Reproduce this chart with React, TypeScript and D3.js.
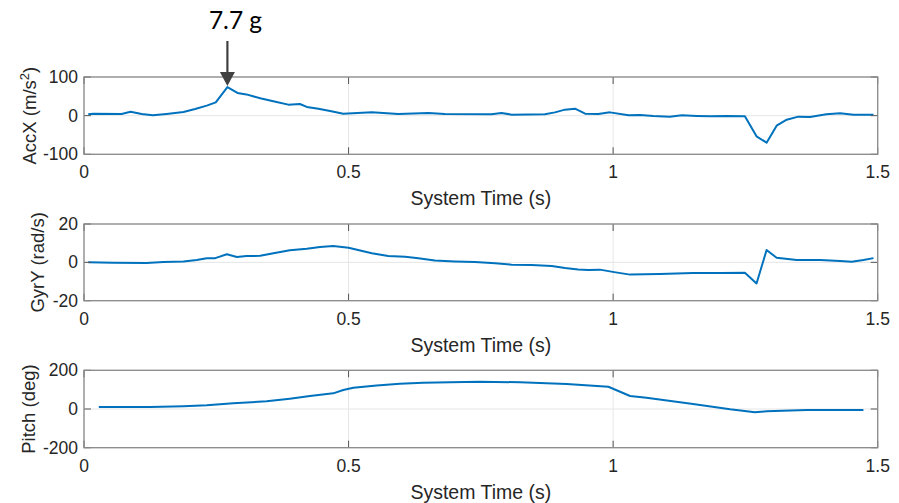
import React from "react";
import * as d3 from "d3";

const accTime = [0.008, 0.018, 0.071, 0.088, 0.109, 0.13, 0.156, 0.188, 0.21, 0.232, 0.249, 0.271, 0.29, 0.307, 0.333, 0.364, 0.386, 0.408, 0.421, 0.443, 0.465, 0.49, 0.544, 0.594, 0.651, 0.682, 0.77, 0.789, 0.808, 0.871, 0.89, 0.909, 0.928, 0.947, 0.972, 0.994, 1.029, 1.051, 1.076, 1.107, 1.13, 1.158, 1.183, 1.214, 1.249, 1.271, 1.29, 1.309, 1.328, 1.35, 1.372, 1.403, 1.429, 1.454, 1.492];
const accX = [3.4, 5, 4.4, 10.3, 4.4, 0.8, 4.4, 9.5, 17, 26, 34.5, 74, 58.7, 55, 44.8, 35.4, 28.5, 30.2, 22.5, 18, 12, 5, 8.5, 4.4, 7, 4.4, 3.4, 7, 2.6, 3.4, 8.5, 15.5, 18, 5, 4.4, 8.5, 0.8, 1.8, -0.8, -2.6, 0.8, -0.8, -1.8, -0.8, -1.8, -53.5, -70, -26, -10.4, -2.6, -3.4, 3.4, 6, 2.6, 2.6];

const gyrTime = [0.008, 0.055, 0.118, 0.15, 0.188, 0.213, 0.232, 0.248, 0.27, 0.289, 0.307, 0.333, 0.358, 0.389, 0.421, 0.446, 0.471, 0.5, 0.518, 0.544, 0.575, 0.607, 0.632, 0.663, 0.701, 0.739, 0.777, 0.808, 0.846, 0.884, 0.909, 0.934, 0.953, 0.975, 1.002, 1.032, 1.088, 1.151, 1.202, 1.249, 1.271, 1.29, 1.309, 1.347, 1.391, 1.429, 1.451, 1.473, 1.492];
const gyrY = [0, -0.2, -0.4, 0.2, 0.5, 1.2, 2.1, 2.2, 4.2, 2.8, 3.3, 3.4, 4.7, 6.3, 7.1, 8.0, 8.5, 7.6, 6.4, 4.7, 3.3, 2.9, 2.1, 1.0, 0.5, 0.2, -0.5, -1.2, -1.4, -1.9, -3.0, -3.7, -4.0, -3.8, -5.1, -6.4, -6.1, -5.6, -5.6, -5.4, -11.0, 6.4, 2.4, 1.2, 1.2, 0.7, 0.3, 1.2, 2.2];

const pitchTime = [0.028, 0.125, 0.188, 0.232, 0.282, 0.345, 0.389, 0.427, 0.471, 0.49, 0.509, 0.553, 0.597, 0.641, 0.692, 0.748, 0.824, 0.912, 0.991, 1.032, 1.063, 1.151, 1.221, 1.268, 1.29, 1.366, 1.473];
const pitch = [10.3, 10.3, 14, 19, 29.4, 39.6, 53.4, 67, 81, 98, 110, 122, 131, 136, 138, 141, 138, 129, 115, 67, 58.4, 26, -1.5, -17, -12, -5, -5];

const xTicks = [0, 0.5, 1, 1.5];
const xTickLabels = ["0", "0.5", "1", "1.5"];
const accTicks = [-100, 0, 100];
const gyrTicks = [-20, 0, 20];
const pitchTicks = [-200, 0, 200];
const xTitle = "System Time (s)";
const annotation = "7.7 g";
const peakTime = 0.271;
const peakValue = 74;

const LEFT = 84;
const RIGHT = 877.7;
const FONT = "'Liberation Sans', Arial, Helvetica, sans-serif";
const TEXT = "#262626";
const BLUE = "#0072BD";

type PanelProps = {
  top: number;
  bottom: number;
  times: number[];
  values: number[];
  yTicks: number[];
  yLabel: React.ReactNode;
  yLabelX: number;
};

function Panel({ top, bottom, times, values, yTicks, yLabel, yLabelX }: PanelProps) {
  const x = d3.scaleLinear().domain([0, 1.5]).range([LEFT, RIGHT]);
  const y = d3.scaleLinear().domain([yTicks[0], yTicks[yTicks.length - 1]]).range([bottom, top]);
  const pts: [number, number][] = times.map((t, i) => [t, values[i]]);
  const line = d3.line<[number, number]>().x((d) => x(d[0])).y((d) => y(d[1]));
  const tl = 7;
  const mid = (top + bottom) / 2;
  return (
    <g>
      {xTicks.map((t) => (
        <line key={"gx" + t} x1={x(t)} x2={x(t)} y1={top} y2={bottom} stroke="#e6e6e6" strokeWidth={1} />
      ))}
      {yTicks.map((t) => (
        <line key={"gy" + t} x1={LEFT} x2={RIGHT} y1={y(t)} y2={y(t)} stroke="#e6e6e6" strokeWidth={1} />
      ))}
      <path d={line(pts) || ""} fill="none" stroke={BLUE} strokeWidth={2} strokeLinejoin="round" />
      {xTicks.map((t) => (
        <g key={"tx" + t}>
          <line x1={x(t)} x2={x(t)} y1={bottom} y2={bottom - tl} stroke="#555" strokeWidth={1} />
          <line x1={x(t)} x2={x(t)} y1={top} y2={top + tl} stroke="#555" strokeWidth={1} />
        </g>
      ))}
      {yTicks.map((t) => (
        <g key={"ty" + t}>
          <line x1={LEFT} x2={LEFT + tl} y1={y(t)} y2={y(t)} stroke="#555" strokeWidth={1} />
          <line x1={RIGHT} x2={RIGHT - tl} y1={y(t)} y2={y(t)} stroke="#555" strokeWidth={1} />
        </g>
      ))}
      <rect x={LEFT} y={top} width={RIGHT - LEFT} height={bottom - top} fill="none" stroke="#8a8a8a" strokeWidth={1.3} />
      {xTicks.map((t, i) => (
        <text key={"lx" + t} x={x(t)} y={bottom + 24} textAnchor="middle" fontSize={17.5} fill={TEXT} fontFamily={FONT}>
          {xTickLabels[i]}
        </text>
      ))}
      {yTicks.map((t) => (
        <text key={"ly" + t} x={LEFT - 6} y={y(t) + 6} textAnchor="end" fontSize={17.5} fill={TEXT} fontFamily={FONT}>
          {String(t)}
        </text>
      ))}
      <text x={(LEFT + RIGHT) / 2} y={bottom + 51} textAnchor="middle" fontSize={19.5} fill={TEXT} fontFamily={FONT}>
        {xTitle}
      </text>
      <text
        transform={`translate(${yLabelX},${mid}) rotate(-90)`}
        textAnchor="middle"
        dy="0.35em"
        fontSize={18.5}
        fill={TEXT}
        fontFamily={FONT}
      >
        {yLabel}
      </text>
    </g>
  );
}

export default function App() {
  const x = d3.scaleLinear().domain([0, 1.5]).range([LEFT, RIGHT]);
  const yAcc = d3.scaleLinear().domain([-100, 100]).range([154.3, 77]);
  const ax = x(peakTime);
  const tipY = yAcc(peakValue) - 1;
  return (
    <div style={{ position: "absolute", left: 0, top: 0 }}>
      <svg width={899} height={503} style={{ display: "block", background: "#fff" }}>
        <Panel
          top={77}
          bottom={154.3}
          times={accTime}
          values={accX}
          yTicks={accTicks}
          yLabelX={30}
          yLabel={
            <>
              AccX (m/s<tspan baselineShift="super" fontSize={13}>2</tspan>)
            </>
          }
        />
        <Panel top={224} bottom={300.7} times={gyrTime} values={gyrY} yTicks={gyrTicks} yLabelX={38} yLabel="GyrY (rad/s)" />
        <Panel top={370.3} bottom={447.7} times={pitchTime} values={pitch} yTicks={pitchTicks} yLabelX={29} yLabel="Pitch (deg)" />
        <line x1={ax} x2={ax} y1={41} y2={tipY - 12} stroke="#404040" strokeWidth={2.2} />
        <path d={`M${ax - 7.5},${tipY - 14} L${ax + 7.5},${tipY - 14} L${ax},${tipY} Z`} fill="#404040" />
        <text x={235.5} y={29} textAnchor="middle" fontSize={24.5} fill="#000" fontFamily="Lato, 'Open Sans', sans-serif">
          {annotation}
        </text>
      </svg>
    </div>
  );
}
